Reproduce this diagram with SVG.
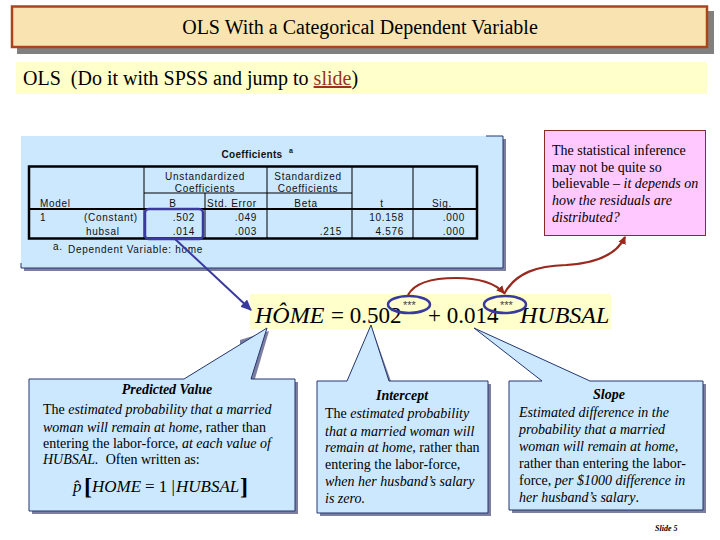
<svg xmlns="http://www.w3.org/2000/svg" width="720" height="540" viewBox="0 0 720 540">
<style>
.s{font-family:"Liberation Serif","Times New Roman",serif;fill:#000}
.t{font-family:"Liberation Sans",Arial,sans-serif;font-size:10px;letter-spacing:.7px;fill:#111}
.b{font-size:14px}
.i{font-style:italic}
.h{font-size:14px;font-weight:bold;font-style:italic}
.call{fill:#CCE8FF;stroke:#23356F;stroke-width:1}
.sh{fill:#7C7FA0}
.m{text-anchor:middle}
.r{text-anchor:end}
.tb{fill:none;stroke:#000}
.star{font-family:"Liberation Sans",Arial,sans-serif;font-size:11px;fill:#444}
</style>
<defs>
<marker id="red" markerWidth="9" markerHeight="9" refX="7" refY="4" orient="auto" markerUnits="userSpaceOnUse"><path d="M0,0L8,4L0,8z" fill="#99281E"/></marker>
<marker id="blue" markerWidth="12" markerHeight="10" refX="10" refY="5" orient="auto" markerUnits="userSpaceOnUse"><path d="M0,0L11,5L0,10z" fill="#3A3A9E"/></marker>
</defs>
<rect width="720" height="540" fill="#fff"/>
<g id="title">
<rect x="17" y="11" width="697" height="43" fill="#808080"/>
<rect x="12" y="6.500" width="695" height="40.500" fill="#F9E3B0" stroke="#A8451F" stroke-width="2.500"/>
<text class="s m" x="360" y="34" font-size="20">OLS With a Categorical Dependent Variable</text>
</g>
<g id="subtitle">
<rect x="16" y="62" width="691" height="32" fill="#FFFFCC"/>
<text class="s" x="23" y="85" font-size="20" style="white-space:pre">OLS  (Do it with SPSS and jump to <tspan fill="#99331A" text-decoration="underline">slide</tspan>)</text>
</g>
<g id="table-panel">
<rect x="24" y="139" width="482" height="132" class="sh"/>
<rect x="21" y="136" width="482" height="132" fill="#CCE8FF"/>
<path d="M486,136H503V268H21V263" fill="none" stroke="#23356F"/>
<text class="t m" x="252" y="158" font-weight="bold" style="letter-spacing:.3px">Coefficients</text>
<text class="t" x="289" y="153" style="font-size:7px" font-weight="bold">a</text>
<rect x="29" y="166.500" width="448" height="72" class="tb" stroke-width="2.500"/>
<path d="M144,166V238M205,193V238M267,166V238M352,166V238M413,166V238M144,193H352" class="tb" stroke-width="1"/>
<path d="M29,209H477" class="tb" stroke-width="2"/>
<text class="t m" x="205" y="180">Unstandardized</text>
<text class="t m" x="205" y="192">Coefficients</text>
<text class="t m" x="308" y="180">Standardized</text>
<text class="t m" x="308" y="192">Coefficients</text>
<text class="t" x="40" y="207">Model</text>
<text class="t m" x="173" y="207">B</text>
<text class="t m" x="232" y="207">Std. Error</text>
<text class="t m" x="306" y="207">Beta</text>
<text class="t m" x="382" y="207">t</text>
<text class="t m" x="442" y="207">Sig.</text>
<text class="t" x="40" y="221">1</text>
<text class="t" x="84" y="221">(Constant)</text>
<text class="t" x="86" y="235">hubsal</text>
<text class="t r" x="195" y="221">.502</text>
<text class="t r" x="257" y="221">.049</text>
<text class="t r" x="404" y="221">10.158</text>
<text class="t r" x="465" y="221">.000</text>
<text class="t r" x="195" y="235">.014</text>
<text class="t r" x="257" y="235">.003</text>
<text class="t r" x="342" y="235">.215</text>
<text class="t r" x="404" y="235">4.576</text>
<text class="t r" x="465" y="235">.000</text>
<text class="t" x="53" y="250">a.</text>
<text class="t" x="68" y="253">Dependent Variable: home</text>
</g>
<g id="pink-note">
<rect x="544.500" y="130.500" width="161" height="105" fill="#FFC8FF" stroke="#8A2A2A"/>
<text class="s b" x="552" y="155">The statistical inference</text>
<text class="s b" x="552" y="172">may not be quite so</text>
<text class="s b" x="552" y="188">believable – <tspan class="i">it depends on</tspan></text>
<text class="s b i" x="552" y="205">how the residuals are</text>
<text class="s b i" x="552" y="222">distributed?</text>
</g>
<g id="equation">
<rect x="250" y="294" width="361" height="35" fill="#FFFFCC"/>
<text class="s i" x="255" y="323" font-size="24">HÔME</text>
<text class="s" x="331" y="323" font-size="23">= 0.502</text>
<text class="s" x="428" y="323" font-size="23">+ 0.014</text>
<text class="s i" x="520" y="323" font-size="24">HUBSAL</text>
<text class="star" x="403" y="309">***</text>
<text class="star" x="500" y="309">***</text>
</g>
<g id="predicted-value">
<path d="M32,382H298V514H32z" class="sh"/>
<path d="M269,331L254,382H240V340z" class="sh"/>
<path d="M29,379H184L267,328L251,379H295V511H29z" class="call"/>
<text class="s h m" x="167" y="394">Predicted Value</text>
<text class="s b" x="43" y="414">The <tspan class="i">estimated probability that a married</tspan></text>
<text class="s b" x="43" y="432"><tspan class="i">woman will remain at home</tspan>, rather than</text>
<text class="s b" x="43" y="448">entering the labor-force, <tspan class="i">at each value of</tspan></text>
<text class="s b" x="43" y="464" style="white-space:pre"><tspan class="i">HUBSAL.</tspan>  Often written as:</text>
<text class="s i" x="73" y="492" font-size="17">p̂</text>
<text class="s" x="84" y="494" font-size="24" font-weight="bold">[</text>
<text class="s i" x="92" y="492" font-size="17">HOME</text>
<text class="s" x="145" y="492" font-size="17">= 1 |</text>
<text class="s i" x="176" y="492" font-size="17">HUBSAL</text>
<text class="s" x="240" y="494" font-size="24" font-weight="bold">]</text>
</g>
<g id="intercept">
<path d="M320,384H491V516H320z" class="sh"/>
<path d="M372,328L392,384H378z" class="sh"/>
<path d="M317,381H347L371,325L389,381H488V513H317z" class="call"/>
<text class="s h m" x="402" y="400">Intercept</text>
<text class="s b" x="325" y="418">The <tspan class="i">estimated probability</tspan></text>
<text class="s b i" x="325" y="436">that a married woman will</text>
<text class="s b" x="325" y="452"><tspan class="i">remain at home</tspan>, rather than</text>
<text class="s b" x="325" y="469">entering the labor-force,</text>
<text class="s b i" x="325" y="486">when her husband’s salary</text>
<text class="s b i" x="325" y="503">is zero.</text>
</g>
<g id="slope">
<path d="M512,384H706V513H512z" class="sh"/>
<path d="M509,381H542L474,328L590,381H703V510H509z" class="call"/>
<text class="s h m" x="609" y="399">Slope</text>
<text class="s b i" x="519" y="417">Estimated difference in the</text>
<text class="s b i" x="519" y="434">probability that a married</text>
<text class="s b i" x="519" y="451">woman will remain at home<tspan font-style="normal">,</tspan></text>
<text class="s b" x="519" y="468">rather than entering the labor-</text>
<text class="s b" x="519" y="485">force, <tspan class="i">per $1000 difference in</tspan></text>
<text class="s b i" x="519" y="502">her husband’s salary<tspan font-style="normal">.</tspan></text>
</g>
<g id="slide-number">
<text class="s i" x="655" y="531" font-size="8" font-weight="bold">Slide 5</text>
</g>
<g id="connectors" fill="none">
<rect x="145" y="209" width="58" height="30" rx="4" stroke="#3A3A9E" stroke-width="2.500"/>
<path d="M175,239L251,310" stroke="#3A3A9E" stroke-width="2" marker-end="url(#blue)"/>
<ellipse cx="409" cy="304.500" rx="21" ry="8.500" stroke="#3A3A9E" stroke-width="2.500"/>
<ellipse cx="505" cy="304.500" rx="21" ry="8.500" stroke="#3A3A9E" stroke-width="2.500"/>
<path d="M408,295C416,280 438,278 456,278C476,278 494,282 504,293" stroke="#99281E" stroke-width="2.200" marker-end="url(#red)"/>
<path d="M504,294C516,272 538,266 566,265C600,263 618,252 625,237" stroke="#99281E" stroke-width="2.200" marker-end="url(#red)"/>
</g>
</svg>
